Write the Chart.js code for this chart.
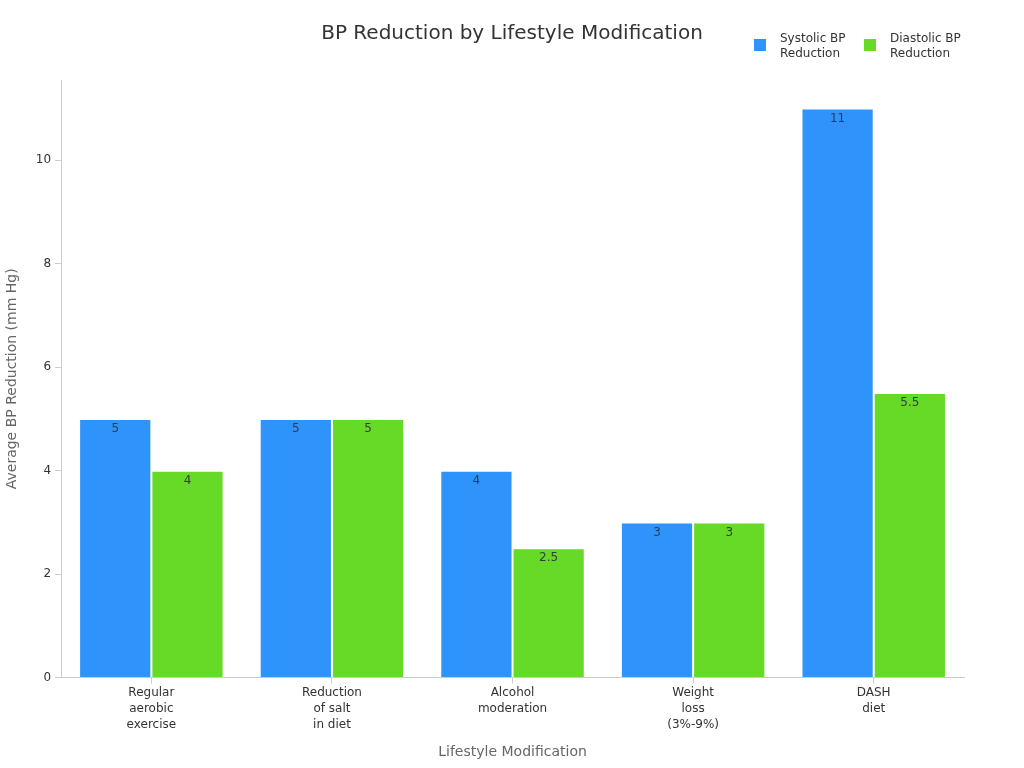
<!DOCTYPE html>
<html>
<head>
<meta charset="utf-8">
<script src="https://cdn.jsdelivr.net/npm/chart.js@4/dist/chart.umd.min.js"></script>
<style>
  html, body { margin: 0; padding: 0; background: #fff; }
  #wrap { width: 1024px; height: 768px; }
</style>
</head>
<body>
<div id="wrap"><canvas id="chart1" width="1024" height="768"></canvas></div>
<script>
"use strict";

const categories = [
    ['Regular', 'aerobic', 'exercise'],
    ['Reduction', 'of salt', 'in diet'],
    ['Alcohol', 'moderation'],
    ['Weight', 'loss', '(3%-9%)'],
    ['DASH', 'diet'],
];
const systolic = [5, 5, 4, 3, 11];
const diastolic = [4, 5, 2.5, 3, 5.5];
const seriesNames = [['Systolic BP', 'Reduction'], ['Diastolic BP', 'Reduction']];
const seriesColors = ['#2E93FA', '#66DA26'];

const FONT = "'DejaVu Sans', sans-serif";

// title and legend drawn by hand so they can share the top line
const headerPlugin = {
    id: 'header',
    afterDraw(chart) {
        const ctx = chart.ctx;
        ctx.save();
        ctx.font = "20px " + FONT;
        ctx.fillStyle = '#333';
        ctx.textAlign = 'center';
        ctx.textBaseline = 'middle';
        ctx.fillText('BP Reduction by Lifestyle Modification', 512, 34);

        const legendX = [754, 864];
        ctx.font = "12px " + FONT;
        ctx.textAlign = 'left';
        chart.data.datasets.forEach((ds, i) => {
            const x = legendX[i];
            ctx.fillStyle = ds.backgroundColor;
            ctx.fillRect(x, 39, 12, 12);
            ctx.fillStyle = '#333';
            ds.label.forEach((line, k) => ctx.fillText(line, x + 26, 39 + k * 15));
        });
        ctx.restore();
    }
};

const valueLabels = {
    id: 'valueLabels',
    afterDatasetsDraw(chart) {
        const ctx = chart.ctx;
        ctx.save();
        ctx.font = "12px " + FONT;
        ctx.fillStyle = '#373d3f';
        ctx.textAlign = 'center';
        ctx.textBaseline = 'middle';
        chart.data.datasets.forEach((ds, i) => {
            chart.getDatasetMeta(i).data.forEach((bar, j) => {
                ctx.fillText(String(ds.data[j]), bar.x, bar.y + 10);
            });
        });
        ctx.restore();
    }
};

document.addEventListener("DOMContentLoaded", () => {

    const data = {
        labels: categories,
        datasets: seriesNames.map((name, i) => ({
            label: name,
            data: i === 0 ? systolic : diastolic,
            backgroundColor: seriesColors[i],
            borderColor: 'rgba(255,255,255,0.8)',
            borderWidth: 1,
        }))
    };

    const config = {
        type: 'bar',
        data: data,
        plugins: [headerPlugin, valueLabels],
        options: {
            responsive: false,
            animation: false,
            devicePixelRatio: 1,
            categoryPercentage: 0.8,
            barPercentage: 1.0,
            layout: { padding: { left: 0, right: 60, top: 80, bottom: 3 } },
            plugins: {
                title: { display: false },
                tooltip: { enabled: false },
                legend: { display: false }
            },
            scales: {
                x: {
                    grid: { display: true, drawOnChartArea: false, offset: false, tickLength: 6, color: '#ccc' },
                    border: { color: '#ccc' },
                    ticks: { font: { family: FONT, size: 12, lineHeight: 1.35 }, color: '#333', maxRotation: 0, autoSkip: false, padding: 1 },
                    title: { display: true, text: 'Lifestyle Modification', font: { family: FONT, size: 14 }, color: '#666', padding: { top: 10 } }
                },
                y: {
                    min: 0,
                    max: 11.55,
                    afterBuildTicks(axis) {
                        axis.ticks = [0, 2, 4, 6, 8, 10].map(v => ({ value: v }));
                    },
                    grid: { display: true, drawOnChartArea: false, tickLength: 6, color: '#ccc' },
                    border: { color: '#ccc' },
                    ticks: { font: { family: FONT, size: 12 }, color: '#333', padding: 4 },
                    title: { display: true, text: 'Average BP Reduction (mm Hg)', font: { family: FONT, size: 14 }, color: '#666', padding: { bottom: 11 } }
                }
            }
        }
    };

    const myChart = new Chart(document.getElementById('chart1'), config);

}, { once: true });
</script>
</body>
</html>
